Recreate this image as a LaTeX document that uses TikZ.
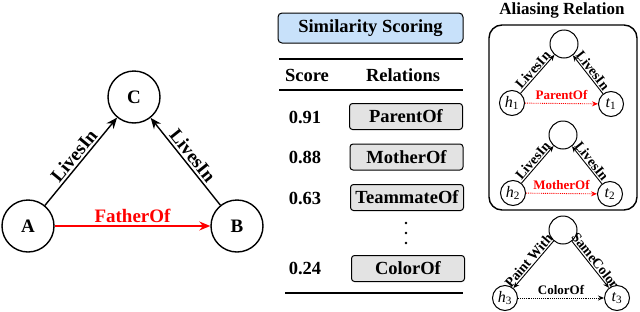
\documentclass[tikz,border=0pt]{standalone}
\usepackage{fontspec}
\setmainfont{Liberation Serif}
\usetikzlibrary{arrows.meta}
\definecolor{simblue}{HTML}{C8E1FA}
\definecolor{relgray}{HTML}{E3E3E3}
\begin{document}
\begin{tikzpicture}[x=1pt,y=-1pt,
  big/.style={circle,draw,line width=1.4pt,minimum size=52pt,inner sep=0pt,font=\fontsize{19}{19}\selectfont\bfseries},
  small/.style={circle,draw,line width=1pt,minimum size=25pt,inner sep=0pt,font=\fontsize{16}{16}\selectfont\itshape},
  smalltop/.style={circle,draw,line width=1pt,minimum size=28pt,inner sep=0pt},
  bigarrow/.style={line width=1.4pt,-{Stealth[length=11pt,width=9pt]}},
  smallarrow/.style={line width=0.9pt,-{Stealth[length=6pt,width=5pt]}},
  dotarrow/.style={line width=0.9pt,densely dotted,-{Stealth[length=6pt,width=5pt]}},
  biglab/.style={font=\fontsize{19}{19}\selectfont\bfseries,inner sep=2pt},
  smalllab/.style={font=\fontsize{13}{13}\selectfont\bfseries,inner sep=1.5pt},
  slopelab/.style={font=\fontsize{14}{14}\selectfont\bfseries,inner sep=1pt,sloped,above},
  hdr/.style={font=\fontsize{18.5}{18.5}\selectfont\bfseries},
  relbox/.style={draw,line width=1pt,rounded corners=3pt,fill=relgray,minimum width=113pt,minimum height=26pt,inner sep=1pt,font=\fontsize{18.5}{18.5}\selectfont\bfseries},
  rule/.style={line width=1.5pt}
]
\useasboundingbox (0,0) rectangle (640,311);

% left triangle
\node[big] (C) at (134,97) {C};
\node[big] (A) at (28,226) {A};
\node[big] (B) at (237,226) {B};
\draw[bigarrow] (A) -- node[biglab,sloped,above] {LivesIn} (C);
\draw[bigarrow] (B) -- node[biglab,sloped,above] {LivesIn} (C);
\draw[bigarrow,red] (A) -- node[biglab,above,red,inner sep=3pt] {FatherOf} (B);

% similarity scoring
\node[draw,line width=1pt,rounded corners=4pt,fill=simblue,minimum width=185pt,minimum height=30pt,inner sep=0pt,font=\fontsize{18.5}{18.5}\selectfont\bfseries] (sim) at (370.5,28) {Similarity Scoring};
\coordinate (r1a) at (279,59); \coordinate (r1b) at (463,59);
\coordinate (r2a) at (279,90); \coordinate (r2b) at (463,90);
\coordinate (r3a) at (285,293); \coordinate (r3b) at (463,293);
\draw[rule] (r1a) -- (r1b);
\draw[rule] (r2a) -- (r2b);
\draw[rule] (r3a) -- (r3b);
\node[hdr] (hs) at (307,75) {Score};
\node[hdr] (hr) at (403,75) {Relations};
\node[hdr] (s1) at (305,117) {0.91};
\node[hdr] (s2) at (305,157) {0.88};
\node[hdr] (s3) at (305,198) {0.63};
\node[hdr] (s4) at (305,268) {0.24};
\node[relbox] (p1) at (406,116.5) {ParentOf};
\node[relbox] (p2) at (406.5,157) {MotherOf};
\node[relbox] (p3) at (407,197.5) {TeammateOf};
\node[relbox] (p4) at (408,268.5) {ColorOf};
\foreach \yy in {223,233,243} \fill (406,\yy) circle (1.3pt);

% aliasing relation
\node[font=\fontsize{17}{17}\selectfont\bfseries] (title) at (562,10) {Aliasing Relation};
\draw[line width=1.4pt,rounded corners=13pt] (489,25) rectangle (637,210);

% tri 1
\node[smalltop] (T1) at (564,44) {};
\node[small] (h1) at (512,103) {h\textsubscript{\upshape 1}};
\node[small] (t1) at (611,104) {t\textsubscript{\upshape 1}};
\draw[smallarrow] (h1) -- node[slopelab] {LivesIn} (T1);
\draw[smallarrow] (t1) -- node[slopelab] {LivesIn} (T1);
\draw[dotarrow,red] (h1) -- node[smalllab,above,red,inner sep=3pt] {ParentOf} (t1);

% tri 2
\node[smalltop] (T2) at (563,135) {};
\node[small] (h2) at (513,193) {h\textsubscript{\upshape 2}};
\node[small] (t2) at (610,194) {t\textsubscript{\upshape 2}};
\draw[smallarrow] (h2) -- node[slopelab] {LivesIn} (T2);
\draw[smallarrow] (t2) -- node[slopelab] {LivesIn} (T2);
\draw[dotarrow,red] (h2) -- node[smalllab,above,red,inner sep=3pt] {MotherOf} (t2);

% tri 3
\node[smalltop] (T3) at (563,230) {};
\node[small] (h3) at (505,298) {h\textsubscript{\upshape 3}};
\node[small] (t3) at (617,298) {t\textsubscript{\upshape 3}};
\draw[smallarrow] (T3) -- node[slopelab] {Paint With} (h3);
\draw[smallarrow] (T3) -- node[slopelab] {SameColor} (t3);
\draw[dotarrow] (h3) -- node[smalllab,above,inner sep=3pt] {ColorOf} (t3);
\end{tikzpicture}
\end{document}
